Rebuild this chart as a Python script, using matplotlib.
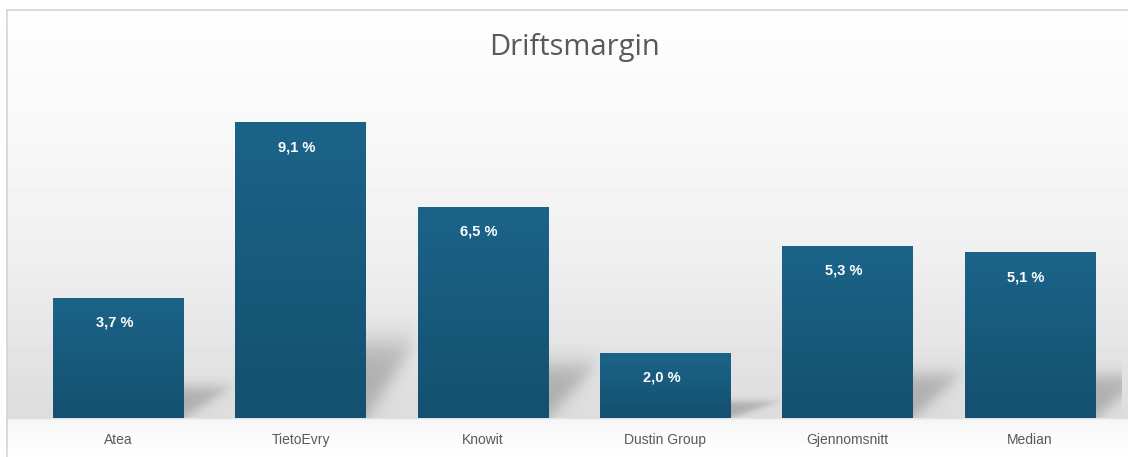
import numpy as np
import matplotlib

matplotlib.use("Agg")
import matplotlib.pyplot as plt
from matplotlib.colors import LinearSegmentedColormap

# data
categories = ["Atea", "TietoEvry", "Knowit", "Dustin Group", "Gjennomsnitt", "Median"]
margins = [3.7, 9.1, 6.5, 2.0, 5.3, 5.1]
value_labels = ["3,7 %", "9,1 %", "6,5 %", "2,0 %", "5,3 %", "5,1 %"]
title = "Driftsmargin"

W, H = 1128, 457
BAR_W = 0.713
TITLE_FONT = ["Liberation Sans Narrow", "Open Sans", "DejaVu Sans"]
LABEL_FONT = ["Liberation Sans Narrow", "Liberation Sans", "DejaVu Sans"]

fig = plt.figure(figsize=(W / 100, H / 100), dpi=100)
fig.patch.set_facecolor("white")

# background "wall + floor" gradient, drawn in pixel space
bg = fig.add_axes([0, 0, 1, 1], zorder=0)
bg.set_xlim(0, W)
bg.set_ylim(H, 0)
bg.axis("off")
rows = np.arange(H)
stops_y = [0, 10, 120, 250, 380, 417, 420, 440, 457]
stops_v = [1.0, 0.995, 0.975, 0.94, 0.88, 0.865, 0.965, 0.985, 1.0]
col = np.interp(rows, stops_y, stops_v)
img = np.repeat(col[:, None], W, axis=1)
img[:10, :] = 1.0
img[:, :7] = 1.0
bg.imshow(img, cmap="gray", vmin=0, vmax=1, extent=(0, W, H, 0), aspect="auto")
bg.plot([7, W], [10, 10], color="#d4d4d4", lw=1.2)
bg.plot([7, 7], [10, H], color="#d4d4d4", lw=1.2)

ax = fig.add_axes([27 / W, (H - 418) / H, 1094 / W, 318 / H], zorder=1)
ax.patch.set_alpha(0)
for s in ax.spines.values():
    s.set_visible(False)
ax.set_yticks([])
ax.set_xticks(range(len(categories)))
ax.set_xticklabels(categories, family=LABEL_FONT, fontsize=10, color="#595959")
ax.tick_params(axis="x", length=0, pad=11)


def sig(t):
    return 1 / (1 + np.exp(-t))


# soft cast shadows to the right of each bar
u, v = np.meshgrid(np.linspace(0, 1.4, 120), np.linspace(0, 1.4, 120))
for i, h in enumerate(margins):
    r = i + BAR_W / 2
    sh = 0.25 * h
    sw = 0.26
    a = sig((v - u) / 0.12) * sig((1 - v) / 0.12) * sig((1.05 - u) / 0.1)
    rgba = np.zeros(u.shape + (4,))
    rgba[..., :3] = 0.45
    rgba[..., 3] = 0.45 * a
    ax.imshow(rgba, origin="lower", aspect="auto", interpolation="bilinear",
              extent=(r, r + sw * 1.4, 0, sh * 1.4), zorder=2)

bar_cmap = LinearSegmentedColormap.from_list("bar", ["#14506f", "#1b6489"])
grad = np.linspace(0, 1, 256)[:, None]
bars = ax.bar(range(len(categories)), margins, width=BAR_W, color="none",
              edgecolor="none", zorder=3)
for b in bars:
    x0, y0 = b.get_x(), b.get_y()
    im = ax.imshow(grad, cmap=bar_cmap, origin="lower", aspect="auto",
                   extent=(x0, x0 + b.get_width(), y0, y0 + b.get_height()), zorder=3)
    im.set_clip_path(b)

ax.set_xlim(-0.5, len(categories) - 0.5)
ax.set_ylim(0, 318 / 32.5)

for i, (h, lab) in enumerate(zip(margins, value_labels)):
    ax.annotate(lab, (i - 0.02, h), xytext=(0, -25), textcoords="offset pixels",
                ha="center", va="center", color="white", fontsize=10.5,
                fontweight="bold", family=["Liberation Sans", "DejaVu Sans"], zorder=5)

fig.text(574.5 / W, 1 - 47 / H, title, ha="center", va="center", family=TITLE_FONT,
         fontsize=21, color="#595959")

fig.savefig("out.png", dpi=100)
